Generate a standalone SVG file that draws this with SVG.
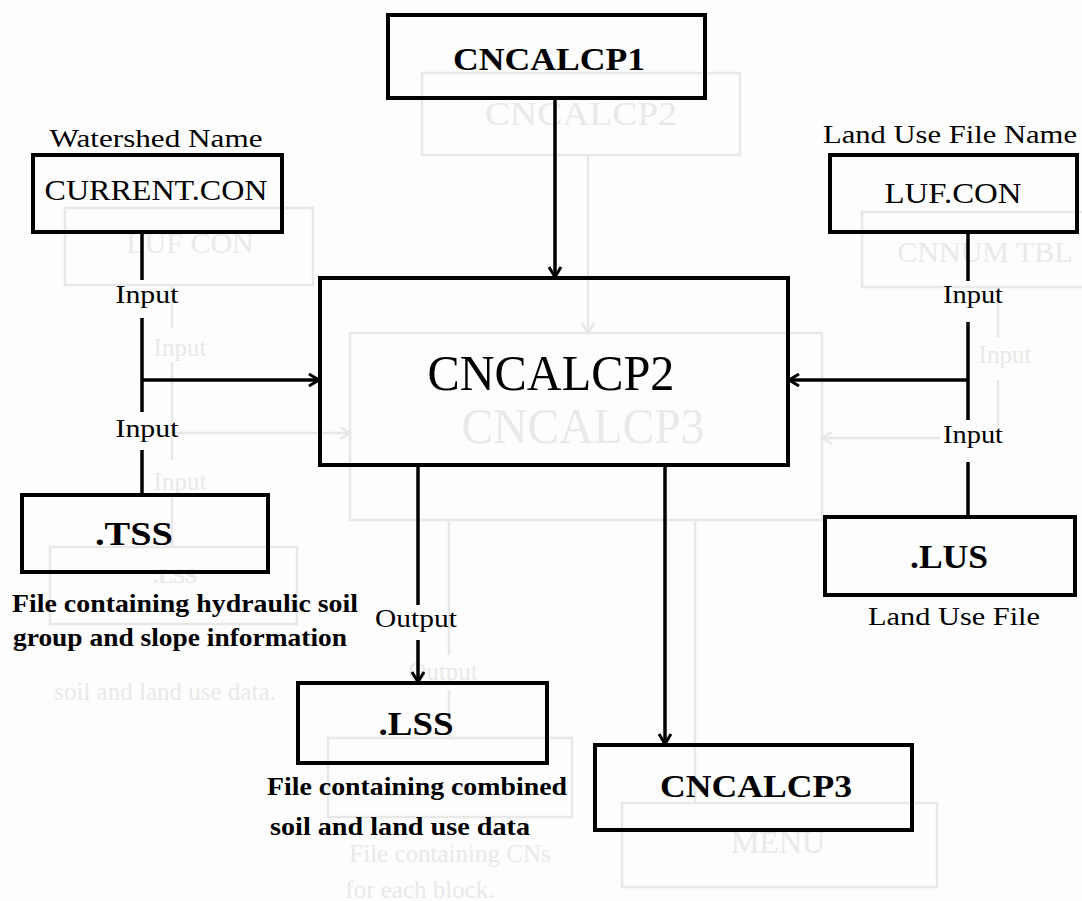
<svg xmlns="http://www.w3.org/2000/svg" width="1082" height="901" viewBox="0 0 1082 901">
<style>
.bg{fill:#fdfdfd}
.box{fill:none;stroke:#000;stroke-width:4}
.ln{fill:none;stroke:#000;stroke-width:3.5}
.t{font-family:"Liberation Serif",serif;fill:#000;text-anchor:middle}
.b{font-weight:bold}
.g{fill:none;stroke:#e8e8e8;stroke-width:2.5}
.gt{font-family:"Liberation Serif",serif;fill:#e9e9e9;text-anchor:middle}
</style>
<defs>
<marker id="ah" markerUnits="userSpaceOnUse" markerWidth="16" markerHeight="16" viewBox="0 0 16 16" refX="14" refY="8" orient="auto">
<path d="M4,2 L14,8 L4,14" fill="none" stroke="#000" stroke-width="3"/>
</marker>
<marker id="gah" markerUnits="userSpaceOnUse" markerWidth="16" markerHeight="16" viewBox="0 0 16 16" refX="14" refY="8" orient="auto">
<path d="M4,2 L14,8 L4,14" fill="none" stroke="#e8e8e8" stroke-width="2.5"/>
</marker>
</defs>
<rect class="bg" x="0" y="0" width="1082" height="901"/>

<g id="ghost">
<rect class="g" x="422" y="73" width="318" height="82"/>
<text class="gt" x="581" y="125" font-size="34" textLength="192" lengthAdjust="spacingAndGlyphs">CNCALCP2</text>
<line class="g" x1="588" y1="155" x2="588" y2="333" marker-end="url(#gah)"/>
<rect class="g" x="350" y="333" width="472" height="187"/>
<text class="gt" x="583" y="443" font-size="50" textLength="243" lengthAdjust="spacingAndGlyphs">CNCALCP3</text>
<rect class="g" x="65" y="208" width="248" height="77"/>
<text class="gt" x="190" y="253" font-size="30">LUF CON</text>
<path class="g" d="M172,285 V328 M172,362 V460"/>
<text class="gt" x="180" y="356" font-size="25">Input</text>
<line class="g" x1="172" y1="433" x2="350" y2="433" marker-end="url(#gah)"/>
<text class="gt" x="180" y="490" font-size="25">Input</text>
<path class="g" d="M172,498 V547"/>
<rect class="g" x="50" y="547" width="247" height="77"/>
<text class="gt" x="175" y="583" font-size="22" font-weight="bold">.LSS</text>
<text class="gt" x="165" y="700" font-size="25">soil and land use data.</text>
<rect class="g" x="862" y="212" width="230" height="75"/>
<text class="gt" x="985" y="262" font-size="30">CNNUM TBL</text>
<path class="g" d="M998,287 V337 M998,380 V427"/>
<text class="gt" x="1005" y="363" font-size="25">Input</text>
<line class="g" x1="940" y1="438" x2="822" y2="438" marker-end="url(#gah)"/>
<path class="g" d="M449,520 V655 M449,690 V738 M695,520 V803"/>
<text class="gt" x="443" y="680" font-size="25">Output</text>
<rect class="g" x="328" y="738" width="244" height="79"/>
<text class="gt" x="450" y="862" font-size="25">File containing CNs</text>
<text class="gt" x="420" y="898" font-size="25">for each block.</text>
<rect class="g" x="622" y="803" width="315" height="84"/>
<text class="gt" x="778" y="853" font-size="32">MENU</text>
</g>

<g id="connectors">
<line class="ln" x1="555" y1="98" x2="555" y2="277" marker-end="url(#ah)"/>
<path class="ln" d="M142,232 V280 M142,318 V412 M142,450 V495"/>
<line class="ln" x1="142" y1="380" x2="319" y2="380" marker-end="url(#ah)"/>
<path class="ln" d="M968,232 V281 M968,322 V420 M968,462 V517"/>
<line class="ln" x1="968" y1="380" x2="789" y2="380" marker-end="url(#ah)"/>
<line class="ln" x1="418" y1="465" x2="418" y2="605"/>
<line class="ln" x1="418" y1="640" x2="418" y2="682" marker-end="url(#ah)"/>
<line class="ln" x1="665" y1="465" x2="665" y2="744" marker-end="url(#ah)"/>
<text class="t" x="147" y="303" font-size="26" textLength="63" lengthAdjust="spacingAndGlyphs">Input</text>
<text class="t" x="147" y="437" font-size="26" textLength="63" lengthAdjust="spacingAndGlyphs">Input</text>
<text class="t" x="973" y="303" font-size="26" textLength="60" lengthAdjust="spacingAndGlyphs">Input</text>
<text class="t" x="973" y="443" font-size="26" textLength="60" lengthAdjust="spacingAndGlyphs">Input</text>
<text class="t" x="416" y="627" font-size="26" textLength="82" lengthAdjust="spacingAndGlyphs">Output</text>
</g>

<g id="cncalcp1">
<rect class="box" x="388" y="15" width="317" height="83"/>
<text class="t b" x="549" y="70" font-size="32" textLength="192" lengthAdjust="spacingAndGlyphs">CNCALCP1</text>
</g>

<g id="cncalcp2">
<rect class="box" x="320" y="278" width="468" height="187"/>
<text class="t" x="551" y="390" font-size="50" textLength="247" lengthAdjust="spacingAndGlyphs">CNCALCP2</text>
</g>

<g id="current_con">
<text class="t" x="156" y="147" font-size="25" textLength="213" lengthAdjust="spacingAndGlyphs">Watershed Name</text>
<rect class="box" x="33" y="155" width="249" height="77"/>
<text class="t" x="156" y="200" font-size="30" textLength="223" lengthAdjust="spacingAndGlyphs">CURRENT.CON</text>
</g>

<g id="luf_con">
<text class="t" x="950" y="143" font-size="25" textLength="254" lengthAdjust="spacingAndGlyphs">Land Use File Name</text>
<rect class="box" x="830" y="155" width="247" height="77"/>
<text class="t" x="953" y="203" font-size="30" textLength="137" lengthAdjust="spacingAndGlyphs">LUF.CON</text>
</g>

<g id="tss">
<rect class="box" x="22" y="495" width="246" height="77"/>
<text class="t b" x="134" y="545" font-size="33" textLength="78" lengthAdjust="spacingAndGlyphs">.TSS</text>
<text class="t b" x="185" y="612" font-size="25" textLength="346" lengthAdjust="spacingAndGlyphs">File containing hydraulic soil</text>
<text class="t b" x="180" y="646" font-size="25" textLength="334" lengthAdjust="spacingAndGlyphs">group and slope information</text>
</g>

<g id="lus">
<rect class="box" x="825" y="517" width="250" height="78"/>
<text class="t b" x="949" y="568" font-size="33" textLength="78" lengthAdjust="spacingAndGlyphs">.LUS</text>
<text class="t" x="954" y="625" font-size="25" textLength="172" lengthAdjust="spacingAndGlyphs">Land Use File</text>
</g>

<g id="lss">
<rect class="box" x="298" y="683" width="249" height="80"/>
<text class="t b" x="416" y="735" font-size="33" textLength="75" lengthAdjust="spacingAndGlyphs">.LSS</text>
<text class="t b" x="417" y="795" font-size="25" textLength="300" lengthAdjust="spacingAndGlyphs">File containing combined</text>
<text class="t b" x="400" y="835" font-size="25" textLength="260" lengthAdjust="spacingAndGlyphs">soil and land use data</text>
</g>

<g id="cncalcp3">
<rect class="box" x="595" y="745" width="317" height="85"/>
<text class="t b" x="756" y="797" font-size="32" textLength="192" lengthAdjust="spacingAndGlyphs">CNCALCP3</text>
</g>
</svg>
